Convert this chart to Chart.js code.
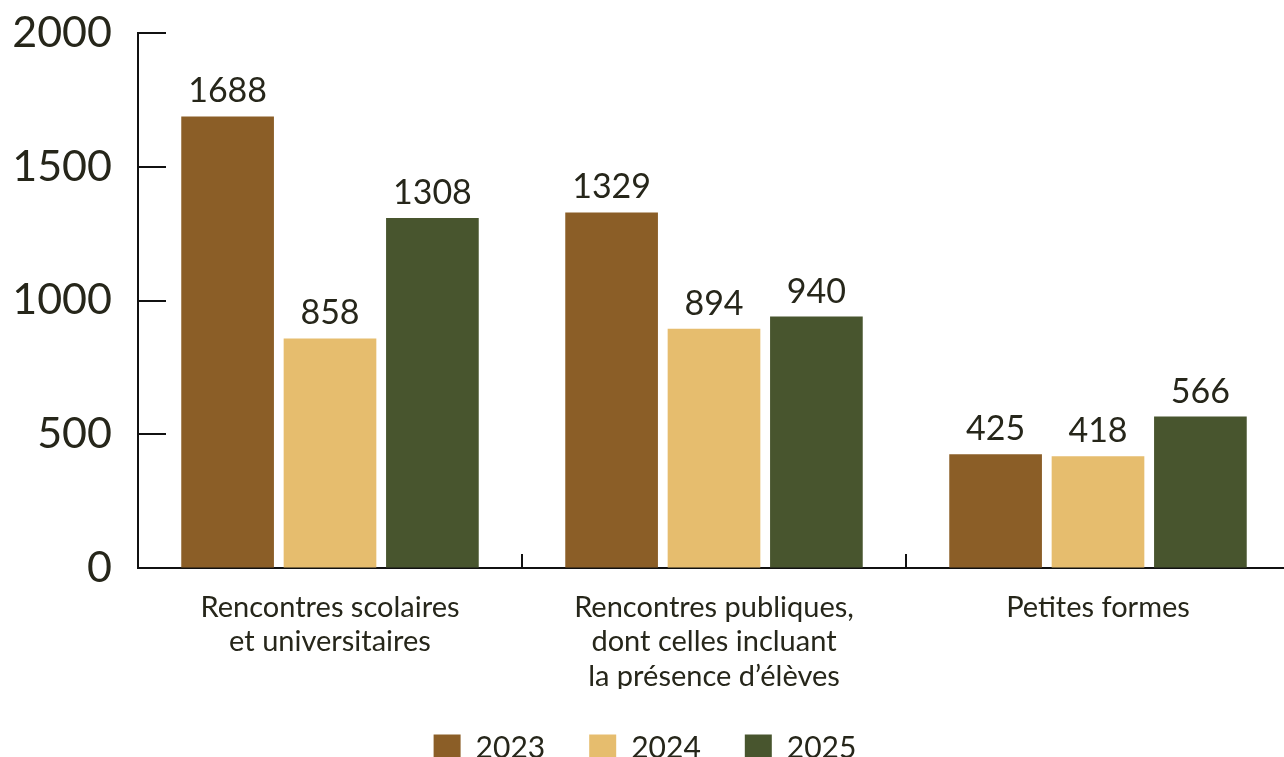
<!DOCTYPE html>
<html>
<head>
<meta charset="utf-8">
<script src="https://cdn.jsdelivr.net/npm/chart.js@4"></script>
<style>
  html, body { margin: 0; padding: 0; background: #fff; overflow: hidden; }
</style>
</head>
<body>
<canvas id="chart" width="1290" height="769"></canvas>
<script>
// Catégories et valeurs
const categories = [
    ['Rencontres scolaires', 'et universitaires'],
    ['Rencontres publiques,', 'dont celles incluant', 'la présence d\u2019élèves'],
    ['Petites formes']
];
const years = ['2023', '2024', '2025'];
const values2023 = [1688, 1329, 425];
const values2024 = [858, 894, 418];
const values2025 = [1308, 940, 566];
const yTicks = [0, 500, 1000, 1500, 2000];

const textColor = '#26261a';
const axisColor = '#111111';

// Étiquettes de valeurs, petits traits des axes
const decorPlugin = {
    id: 'decor',
    afterDatasetsDraw(chart) {
        const ctx = chart.ctx;
        const area = chart.chartArea;
        const xs = chart.scales.x;
        const ys = chart.scales.y;
        ctx.save();
        ctx.strokeStyle = axisColor;
        ctx.lineWidth = 2;
        // traits de graduation Y vers l'intérieur
        yTicks.forEach(v => {
            if (v === 0) return;
            const y = Math.round(ys.getPixelForValue(v));
            ctx.beginPath();
            ctx.moveTo(area.left, y);
            ctx.lineTo(area.left + 28, y);
            ctx.stroke();
        });
        // traits entre catégories sur l'axe X
        for (let i = 1; i < categories.length; i++) {
            const x = Math.round((xs.getPixelForTick(i - 1) + xs.getPixelForTick(i)) / 2);
            ctx.beginPath();
            ctx.moveTo(x, area.bottom);
            ctx.lineTo(x, area.bottom - 14);
            ctx.stroke();
        }
        // valeurs au-dessus des barres
        ctx.fillStyle = textColor;
        ctx.font = '34px Lato';
        ctx.textAlign = 'center';
        ctx.textBaseline = 'alphabetic';
        chart.data.datasets.forEach((ds, di) => {
            chart.getDatasetMeta(di).data.forEach((bar, i) => {
                ctx.fillText(String(ds.data[i]), bar.x, bar.y - 14);
            });
        });
        ctx.restore();
    }
};

const ctx = document.getElementById('chart').getContext('2d');

const chart = new Chart(ctx, {
    type: 'bar',
    data: {
        labels: categories,
        datasets: [{
            label: years[0],
            data: values2023,
            backgroundColor: '#8b5e27'
        }, {
            label: years[1],
            data: values2024,
            backgroundColor: '#e6bd6e'
        }, {
            label: years[2],
            data: values2025,
            backgroundColor: '#48552e'
        }]
    },
    options: {
        responsive: false,
        animation: false,
        layout: {
            padding: { top: 33, left: 0, right: 0, bottom: 0 }
        },
        datasets: {
            bar: {
                categoryPercentage: 0.8,
                barPercentage: 0.905
            }
        },
        plugins: {
            tooltip: { enabled: false },
            legend: {
                position: 'bottom',
                maxHeight: 80,
                labels: {
                    boxWidth: 27,
                    boxHeight: 27,
                    padding: 44,
                    color: textColor,
                    font: { family: 'Lato', size: 30 }
                }
            }
        },
        scales: {
            x: {
                grid: { display: false, drawTicks: false },
                border: { display: true, color: axisColor, width: 2 },
                afterFit(scale) {
                    scale.height = 121;
                },
                ticks: {
                    color: textColor,
                    padding: 22,
                    font: { family: 'Lato', size: 29, lineHeight: 1.19 }
                }
            },
            y: {
                min: 0,
                max: 2000,
                afterBuildTicks(scale) {
                    scale.ticks = yTicks.map(v => ({ value: v }));
                },
                afterFit(scale) {
                    scale.width = 138;
                    scale.paddingTop = 0;
                    scale.paddingBottom = 0;
                },
                grid: { drawOnChartArea: false, drawTicks: false },
                border: { display: true, color: axisColor, width: 2 },
                ticks: {
                    color: textColor,
                    padding: 26,
                    font: { family: 'Lato', size: 43 },
                    callback: v => String(v)
                }
            }
        }
    },
    plugins: [decorPlugin]
});
</script>
</body>
</html>
